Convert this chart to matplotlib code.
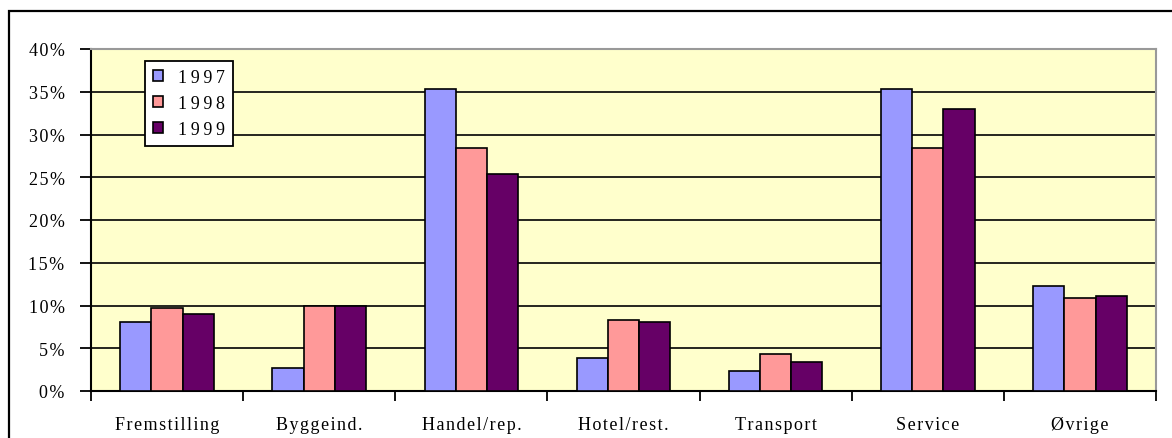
import matplotlib.pyplot as plt
import numpy as np
from matplotlib.patches import Rectangle

categories = ["Fremstilling", "Byggeind.", "Handel/rep.", "Hotel/rest.",
              "Transport", "Service", "Øvrige"]
years = ["1997", "1998", "1999"]
v1997 = [8.1, 2.7, 35.3, 3.9, 2.3, 35.3, 12.3]
v1998 = [9.7, 9.9, 28.4, 8.3, 4.3, 28.4, 10.9]
v1999 = [9.0, 9.9, 25.4, 8.1, 3.4, 33.0, 11.1]
colors = ["#9999FF", "#FF9999", "#660066"]

plt.rcParams['font.family'] = ['Liberation Serif', 'DejaVu Serif']


def spaced(s, sep="\u200a"):
    # the original chart uses letter spacing
    return sep.join(s)


fig = plt.figure(figsize=(11.72, 4.39), dpi=100)
# outer chart frame
fig.patches.append(Rectangle((9 / 1172, -0.1), 1.2, (439 - 12) / 439 + 0.1,
                             transform=fig.transFigure, fill=False,
                             edgecolor="black", linewidth=1.6))

ax = fig.add_axes([91 / 1172, 47 / 439, 1065 / 1172, 342 / 439])
ax.set_facecolor("#FFFFCC")

x = np.arange(len(categories))
w = 0.205
for k, (vals, lab) in enumerate(zip([v1997, v1998, v1999], years)):
    ax.bar(x + (k - 1) * w, vals, w, color=colors[k], edgecolor="black",
           linewidth=1.2, label=spaced(lab, "\u2009"), zorder=3)

ax.set_xlim(-0.5, len(categories) - 0.5)
ax.set_ylim(0, 40)
ax.set_yticks(np.arange(0, 41, 5))
ax.set_yticklabels([spaced(f"{v}%") for v in range(0, 41, 5)], fontsize=13)
ax.yaxis.grid(True, color="black", linewidth=1.2, zorder=1)
ax.set_axisbelow(True)

ax.set_xticks(x)
ax.set_xticklabels([spaced(c) for c in categories], fontsize=13)
ax.tick_params(axis="x", length=0, pad=18)
ax.set_xticks(np.arange(-0.5, len(categories)), minor=True)
ax.tick_params(axis="x", which="minor", length=7, width=1.3, direction="out")
ax.tick_params(axis="y", length=8, width=1.3, pad=11)

for s in ["left", "bottom"]:
    ax.spines[s].set_color("black")
    ax.spines[s].set_linewidth(1.5)
for s in ["top", "right"]:
    ax.spines[s].set_color("#999999")
    ax.spines[s].set_linewidth(1.5)

leg = ax.legend(loc="upper left", bbox_to_anchor=(0.051, 0.965), fontsize=13,
                frameon=True, fancybox=False, edgecolor="black",
                handlelength=0.55, handleheight=0.55, handletextpad=0.8,
                labelspacing=0.5, borderpad=0.45, borderaxespad=0,
                framealpha=1)
leg.get_frame().set_linewidth(1.3)

plt.savefig("out.png", dpi=100)
